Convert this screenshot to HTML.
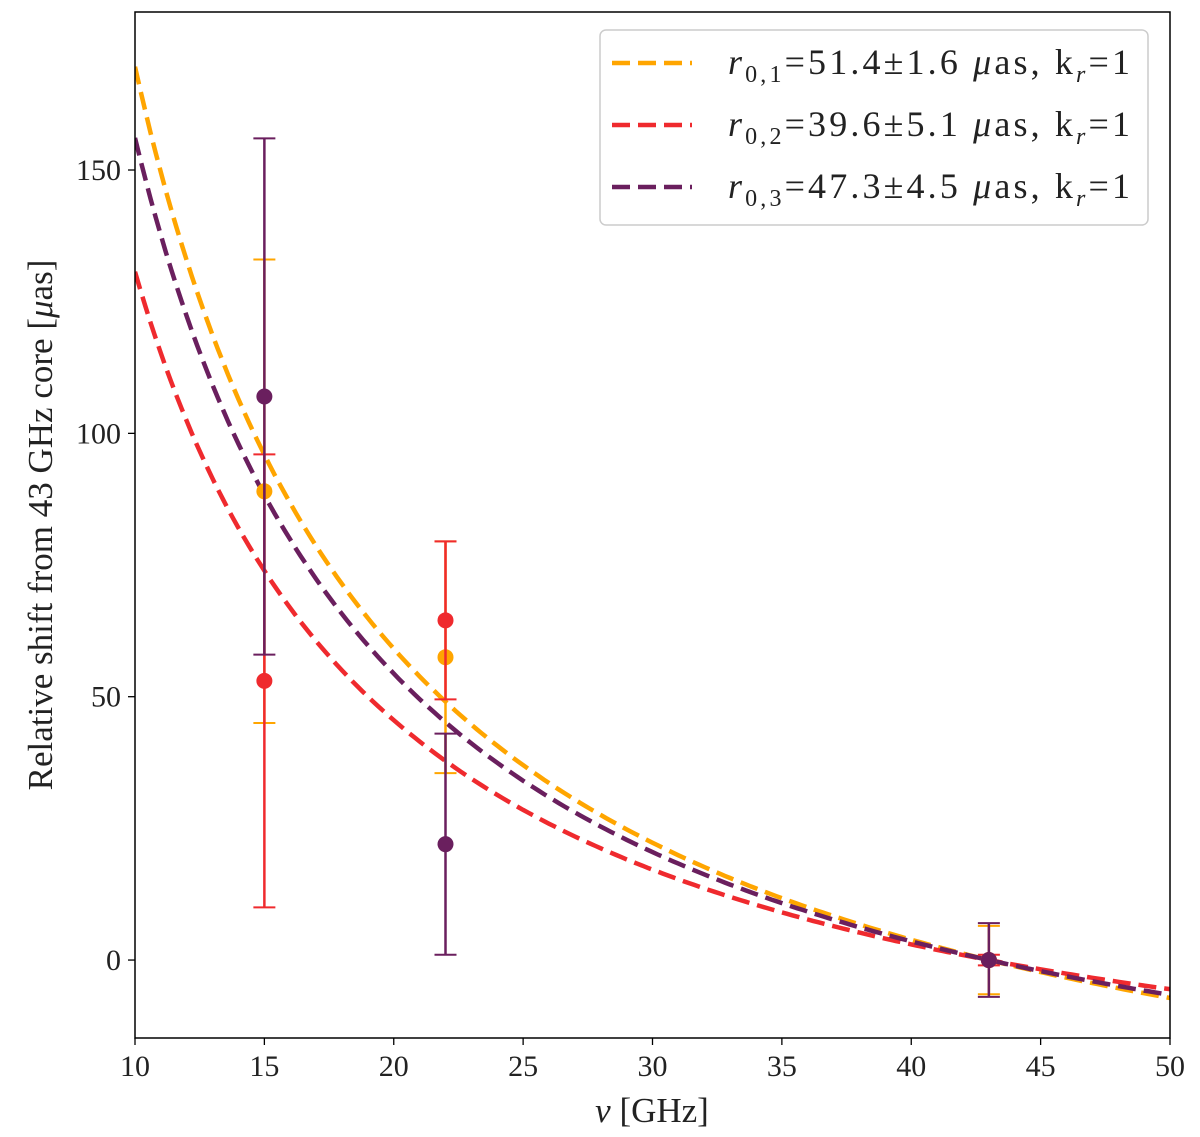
<!DOCTYPE html>
<html><head><meta charset="utf-8"><style>
body{margin:0;background:#fff}
svg text{font-family:"Liberation Serif",serif;fill:#222}
</style></head><body>
<svg id="chart" width="1200" height="1137" xmlns="http://www.w3.org/2000/svg" style="position:absolute;left:0;top:0">
<rect width="1200" height="1137" fill="#fff"/>
<g id="plot"></g>
<g id="axes"></g>
<text x="652" y="1122" text-anchor="middle" font-size="35"><tspan font-style="italic">ν</tspan> [GHz]</text>
<text transform="translate(52,525) rotate(-90)" text-anchor="middle" font-size="35">Relative shift from 43 GHz core [<tspan font-style="italic">μ</tspan>as]</text>
</svg>
<script>
const xTicks=[10,15,20,25,30,35,40,45,50];
const yTicks=[0,50,100,150];
const seriesNames=["orange","red","purple"];
const seriesColors=["#FFA500","#EF2A2E","#6A1F5E"];
const r0Values=[51.4,39.6,47.3];
const r0Errors=["1.6","5.1","4.5"];
const refFreq=43;
const pointFreqs=[15,22,43];
const pointValues=[[89,57.5,0],[53,64.5,0],[107,22,0]];
const pointErrors=[[44,22,6.5],[43,15,1],[49,21,7]];

const L=135,R=1170,T=12,B=1038;
const xMin=10,xMax=50,yMin=-14.8,yMax=180;
const sx=v=>L+(v-xMin)/(xMax-xMin)*(R-L);
const sy=v=>B-(v-yMin)/(yMax-yMin)*(B-T);
const NS="http://www.w3.org/2000/svg";
function mk(tag,attrs,parent){const e=document.createElementNS(NS,tag);for(const k in attrs)e.setAttribute(k,attrs[k]);parent.appendChild(e);return e;}
const plot=document.getElementById('plot'),axes=document.getElementById('axes');
const cp=mk('clipPath',{id:'cp'},plot);mk('rect',{x:L,y:T,width:R-L,height:B-T},cp);
const g=mk('g',{'clip-path':'url(#cp)'},plot);
seriesNames.forEach((n,i)=>{
  let d='';
  for(let k=0;k<=200;k++){const f=xMin+(xMax-xMin)*k/200;const v=r0Values[i]*(refFreq/f-1);d+=(k?'L':'M')+sx(f).toFixed(1)+','+sy(v).toFixed(1);}
  const p=mk('path',{d:d,fill:'none',stroke:seriesColors[i],'stroke-width':4.5,'stroke-dasharray':'18,8'},g);
  
  
});
seriesNames.forEach((n,i)=>{
  pointFreqs.forEach((f,j)=>{
    const x=sx(f),v=pointValues[i][j],e=pointErrors[i][j],c=seriesColors[i];
    const gg=mk('g',{},g);
    
    
    mk('line',{x1:x,x2:x,y1:sy(v-e),y2:sy(v+e),stroke:c,'stroke-width':2.5},gg);
    mk('line',{x1:x-11,x2:x+11,y1:sy(v-e),y2:sy(v-e),stroke:c,'stroke-width':2},gg);
    mk('line',{x1:x-11,x2:x+11,y1:sy(v+e),y2:sy(v+e),stroke:c,'stroke-width':2},gg);
    mk('circle',{cx:x,cy:sy(v),r:8,fill:c},gg);
  });
});
const fr=mk('rect',{x:L,y:T,width:R-L,height:B-T,fill:'none',stroke:'#000','stroke-width':1.5},axes);

xTicks.forEach(t=>{
  mk('line',{x1:sx(t),x2:sx(t),y1:B,y2:B+7,stroke:'#000','stroke-width':1.3},axes);
  const tx=mk('text',{x:sx(t),y:B+38,'text-anchor':'middle','font-size':30},axes);tx.textContent=t;
  
});
yTicks.forEach(t=>{
  mk('line',{x1:L-7,x2:L,y1:sy(t),y2:sy(t),stroke:'#000','stroke-width':1.3},axes);
  const tx=mk('text',{x:L-14,y:sy(t)+10,'text-anchor':'end','font-size':30},axes);tx.textContent=t;
  
});
const lg=mk('g',{},axes);

mk('rect',{x:600,y:30,width:548,height:195,rx:6,fill:'#fff','fill-opacity':0.85,stroke:'#ccc','stroke-width':1.5},lg);
seriesNames.forEach((n,i)=>{
  const y=63+i*62;
  const e=mk('g',{},lg);
  
  mk('line',{x1:612,x2:692,y1:y,y2:y,stroke:seriesColors[i],'stroke-width':4.5,'stroke-dasharray':'18,8'},e);
  const t=mk('text',{x:728,y:y+11,'font-size':36,textLength:402,lengthAdjust:'spacing'},e);
  t.innerHTML='<tspan font-style="italic">r</tspan><tspan font-size="24" dy="8">0,'+(i+1)+'</tspan><tspan dy="-8">='+r0Values[i]+'±'+r0Errors[i]+' </tspan><tspan font-style="italic">μ</tspan><tspan>as, k</tspan><tspan font-size="24" dy="8" font-style="italic">r</tspan><tspan dy="-8">=1</tspan>';
});
</script>
</body></html>
